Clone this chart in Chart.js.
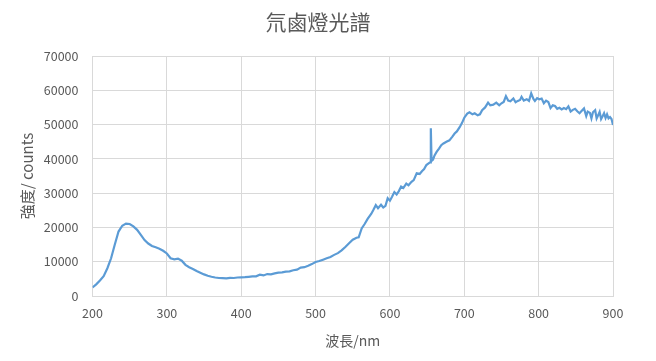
<!DOCTYPE html>
<html>
<head>
<meta charset="utf-8">
<script src="https://cdn.jsdelivr.net/npm/chart.js@4"></script>
<style>
  html, body { margin: 0; padding: 0; background: #fff; }
  #wrap { width: 656px; height: 361px; }
</style>
</head>
<body>
<div id="wrap"><canvas id="spectrum"></canvas></div>
<script>
// wavelength (nm) and intensity (counts)
const wavelengths = [
  200, 205, 210, 215, 220, 225, 230, 235, 240, 245, 250, 255, 260, 265, 270, 275, 280, 285, 290, 295,
  300, 305, 310, 315, 320, 325, 330, 335, 340, 345, 350, 355, 360, 365, 370, 375, 380, 385, 390, 395,
  400, 405, 410, 415, 420, 425, 430, 435, 440, 445, 450, 455, 460, 465, 470, 475, 480, 485, 490, 495,
  500, 505, 510, 515, 520, 525, 530, 535, 540, 545, 550, 555, 558, 562, 566, 570, 575, 578, 581, 584,
  588, 591, 594, 597, 600, 603, 606, 609, 612, 615, 618, 622, 625, 629, 632, 636, 640, 643, 646, 649,
  652, 654, 655, 656, 658, 660, 663, 666, 669, 672, 676, 680, 684, 687, 690, 694, 697, 700, 704, 707,
  711, 714, 718, 721, 724, 728, 732, 735, 739, 743, 747, 750, 753, 756, 759, 762, 766, 769, 772, 775,
  777, 780, 784, 787, 790, 793, 795, 798, 801, 804, 807, 810, 813, 816, 819, 822, 825, 828, 831, 834,
  837, 840, 843, 846, 849, 852, 855, 858, 861, 864, 866, 869, 871, 873, 876, 878, 880, 882, 884, 886,
  888, 890, 892, 894, 896, 898, 900
];
const counts = [
  2500, 3400, 4500, 5800, 8100, 11000, 15000, 18800, 20500, 21100, 21000, 20300, 19300, 17800, 16300, 15300, 14600, 14200, 13800, 13200,
  12400, 11000, 10700, 10900, 10300, 9100, 8400, 7900, 7300, 6800, 6300, 5900, 5600, 5400, 5250, 5200, 5150, 5300, 5250, 5400,
  5450, 5500, 5600, 5700, 5750, 6200, 6000, 6400, 6300, 6600, 6800, 6900, 7100, 7200, 7500, 7700, 8300, 8400, 8800, 9300,
  9900, 10200, 10600, 11000, 11400, 12000, 12500, 13300, 14300, 15400, 16400, 17000, 17100, 19700, 21000, 22500, 24000, 25200, 26500, 25600,
  26600, 25800, 26300, 28500, 27800, 29000, 30300, 29600, 30600, 31900, 31500, 32800, 32300, 33300, 33800, 35800, 35600, 36400, 37000, 38200,
  38700, 39000, 48900, 39400, 39800, 41000, 42100, 43000, 44000, 44500, 45000, 45400, 46500, 47400, 48000, 49300, 50500, 52000, 53200, 53600,
  53000, 53300, 52700, 53000, 54200, 55000, 56400, 55600, 55800, 56400, 55600, 56200, 56600, 58300, 57000, 56800, 57600, 56500, 56900, 57200,
  58100, 57000, 57400, 56900, 59100, 57500, 56900, 57700, 57400, 57600, 56200, 57000, 56600, 54800, 55600, 55400, 54600, 54900, 54400, 54800,
  54500, 55300, 53800, 54300, 54600, 53900, 53300, 54000, 54700, 52500, 53800, 53400, 51800, 53600, 54200, 51800, 52700, 53700, 51600, 52400,
  53300, 51900, 53000, 51800, 52200, 51600, 49900
];

const titleText = '氘鹵燈光譜';
const xTitle = '波長/nm';
const yTitle = '強度/ counts';

const font = '"Noto Sans CJK TC", "Noto Sans", sans-serif';
const grey = '#595959';
const gridColor = '#d9d9d9';

const points = wavelengths.map((w, i) => ({ x: w, y: counts[i] }));

// chart title, centred a bit right of the plot like the original
const titlePlugin = {
  id: 'centredTitle',
  afterDraw(chart) {
    const ctx = chart.ctx;
    ctx.save();
    ctx.fillStyle = grey;
    ctx.font = `21px ${font}`;
    ctx.textAlign = 'center';
    ctx.textBaseline = 'middle';
    ctx.fillText(titleText, 318, 22);
    ctx.restore();
  },
};

new Chart(document.getElementById('spectrum'), {
  type: 'line',
  data: {
    datasets: [
      {
        data: points,
        borderColor: '#5b9bd5',
        borderWidth: 2.2,
        pointRadius: 0,
        tension: 0,
        fill: false,
      },
    ],
  },
  options: {
    responsive: true,
    maintainAspectRatio: false,
    animation: false,
    layout: { padding: { left: 0, right: 43, top: 56, bottom: 0 } },
    plugins: {
      legend: { display: false },
      tooltip: { enabled: false },
      title: { display: false },
    },
    scales: {
      x: {
        type: 'linear',
        min: 200,
        max: 900,
        ticks: {
          stepSize: 100,
          color: grey,
          font: { family: font, size: 12.5 },
          padding: 10,
          maxRotation: 0,
          callback: (v) => `${v}`,
        },
        grid: { color: gridColor, drawTicks: false },
        border: { color: gridColor },
        title: {
          display: true,
          text: xTitle,
          color: grey,
          font: { family: font, size: 14 },
          padding: { top: 4, bottom: 12 },
        },
        afterFit: (scale) => { scale.height = 65; },
      },
      y: {
        min: 0,
        max: 70000,
        ticks: {
          stepSize: 10000,
          color: grey,
          font: { family: font, size: 12.5 },
          padding: 14,
          callback: (v) => `${v}`,
        },
        grid: { color: gridColor, drawTicks: false },
        border: { display: false },
        title: {
          display: true,
          text: yTitle,
          color: grey,
          font: { family: font, size: 15 },
          padding: { top: 18, bottom: 4 },
        },
        afterFit: (scale) => { scale.width = 92.5; },
      },
    },
  },
  plugins: [titlePlugin],
});
</script>
</body>
</html>
